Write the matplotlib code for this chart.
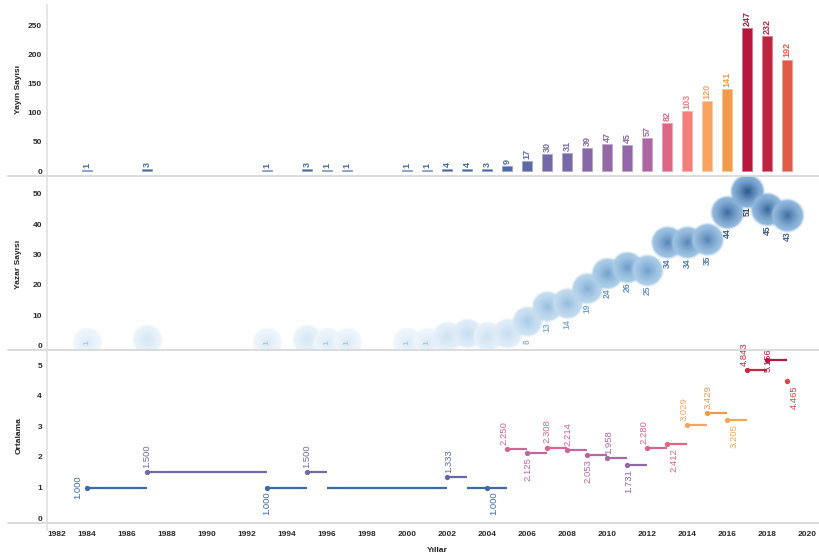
import matplotlib
matplotlib.use('Agg')
import matplotlib.pyplot as plt
import numpy as np
from matplotlib.colors import LinearSegmentedColormap, to_rgb
from matplotlib.lines import Line2D

# ---------------- data ----------------
years = [1984, 1987, 1993, 1995, 1996, 1997, 2000, 2001, 2002, 2003, 2004, 2005, 2006,
         2007, 2008, 2009, 2010, 2011, 2012, 2013, 2014, 2015, 2016, 2017, 2018, 2019]
yayin = [1, 3, 1, 3, 1, 1, 1, 1, 4, 4, 3, 9, 17,
         30, 31, 39, 47, 45, 57, 82, 103, 120, 141, 247, 232, 192]
yazar = [1, 2, 1, 2, 1, 1, 1, 1, 3, 4, 3, 4, 8,
         13, 14, 19, 24, 26, 25, 34, 34, 35, 44, 51, 45, 43]
ortalama = [1.000, 1.500, 1.000, 1.500, 1.000, 1.000, 1.000, 1.000, 1.333, 1.000, 1.000, 2.250, 2.125,
            2.308, 2.214, 2.053, 1.958, 1.731, 2.280, 2.412, 3.029, 3.429, 3.205, 4.843, 5.156, 4.465]
x_ticks = list(range(1982, 2021, 2))
top_ticks = [0, 50, 100, 150, 200, 250]
mid_ticks = [0, 10, 20, 30, 40, 50]
bot_ticks = [0, 1, 2, 3, 4, 5]
ylabel_top = "Yayın Sayısı"
ylabel_mid = "Yazar Sayısı"
ylabel_bot = "Ortalama"
xlabel = "Yıllar"

# label visibility / placement (style)
mid_center_labels = [1984, 1993, 1996, 1997, 2000, 2001]
mid_below_labels = list(range(2006, 2020))
# year: (mode, dx in px)
bot_label_place = {1984: ('l', 0), 1987: ('a', 0), 1993: ('b', 0), 1995: ('a', 0),
                   2002: ('a', 2), 2004: ('b', 7), 2005: ('a', -3), 2006: ('b', 1),
                   2007: ('a', 0), 2008: ('a', 1), 2009: ('b', 1), 2010: ('a', 1),
                   2011: ('b', 1), 2012: ('a', -3), 2013: ('b', 7), 2014: ('a', -3),
                   2015: ('a', 1), 2016: ('b', 7), 2017: ('a', -3), 2018: ('c', 1),
                   2019: ('b', 7)}

plt.rcParams['font.family'] = ['Liberation Sans', 'DejaVu Sans']

W, H = 819, 558
fig = plt.figure(figsize=(W / 100, H / 100), dpi=100)

def fx(px):
    return px / W

def fy(py):
    return 1 - py / H

left = fx(47)
width = 1 - left
ax_top = fig.add_axes([left, fy(176), width, (176 - 5) / H])
ax_mid = fig.add_axes([left, fy(350), width, (350 - 176) / H])
ax_bot = fig.add_axes([left, fy(523), width, (523 - 350) / H])

XMIN, XMAX = 1982, 2020.58
tick_col = '#2b2b2b'
for ax in (ax_top, ax_mid, ax_bot):
    ax.set_xlim(XMIN, XMAX)
    for s in ax.spines.values():
        s.set_visible(False)
    ax.tick_params(length=0, labelsize=6, labelcolor=tick_col, pad=3.6)
    ax.set_facecolor('none')

ax_top.set_ylim(-8.6, 286)
ax_mid.set_ylim(-1.55, 55.9)
ax_bot.set_ylim(-0.153, 5.49)

pal = LinearSegmentedColormap.from_list('pal', [
    (0.0, '#3d6aa3'), (0.13, '#7a68a8'), (0.22, '#a466a6'), (0.30, '#d26596'), (0.34, '#e2667f'),
    (0.43, '#f8827a'), (0.50, '#f9ab5c'), (0.60, '#ee9645'), (0.78, '#e05a48'),
    (0.92, '#c32a40'), (1.0, '#b5173f')])

# ---------------- top: bars ----------------
ymax_top = max(yayin)
bar_cols = [pal(v / ymax_top) for v in yayin]
ax_top.bar(years, yayin, width=0.5, color=bar_cols,
           edgecolor=[tuple(np.array(to_rgb(c)) * 0.6 + 0.4) for c in bar_cols],
           linewidth=0.6, zorder=2)
for x, v, c in zip(years, yayin, bar_cols):
    ax_top.annotate(str(v), (x, v), xytext=(0, 1.5), textcoords='offset points', rotation=90,
                    ha='center', va='bottom', fontsize=6.5, fontweight='bold', color=c)
ax_top.set_yticks(top_ticks)
ax_top.set_xticks([])

# ---------------- middle: bubbles ----------------
edge_cm = LinearSegmentedColormap.from_list('edge', [(0, '#f3f8fc'), (0.15, '#cfe3f3'),
                                                     (0.5, '#a9cbe7'), (1, '#86b0d8')])
cent_cm = LinearSegmentedColormap.from_list('cent', [(0, '#e2eff9'), (0.15, '#a7cbe7'),
                                                     (0.5, '#6b9ccb'), (1, '#24528a')])
lab_cm = LinearSegmentedColormap.from_list('lab', [(0, '#a9cdea'), (0.3, '#80acd7'),
                                                   (0.6, '#5a8abd'), (1, '#2a4770')])
vmax_mid = max(yazar)
K = 14
z = 2
for x, v in zip(years, yazar):
    t = v / vmax_mid
    R = 13.5 + 2.0 * t  # px
    ec = np.array(to_rgb(edge_cm(t)))
    cc = np.array(to_rgb(cent_cm(t)))
    for fr, al in ((1.14, 0.22), (1.07, 0.45)):
        rpt = R * fr * 0.72
        ax_mid.scatter([x], [v], s=(2 * rpt) ** 2, color=ec, alpha=al, linewidths=0, zorder=z)
        z += 0.01
    for k in range(K):
        f = 1 - k / K
        m = (1 - f) ** 1.3
        col = ec * (1 - m) + cc * m
        rpt = R * f * 0.72
        ax_mid.scatter([x], [v], s=(2 * rpt) ** 2, color=col, linewidths=0, zorder=z)
        z += 0.01
for x, v in zip(years, yazar):
    t = v / vmax_mid
    if x in mid_center_labels:
        ax_mid.annotate(str(v), (x, v), xytext=(0, -0.5), textcoords='offset points', rotation=90,
                        ha='center', va='center', fontsize=6, color=lab_cm(t), zorder=50,
                        fontweight='bold')
    elif x in mid_below_labels:
        ax_mid.annotate(str(v), (x, v), xytext=(0, -15), textcoords='offset points', rotation=90,
                        ha='center', va='center', fontsize=6.2, color=lab_cm(t), zorder=50,
                        fontweight='bold')
ax_mid.set_yticks(mid_ticks)
ax_mid.set_xticks([])

# ---------------- bottom: step segments ----------------
omin, omax = min(ortalama), max(ortalama)
for i, (x, v) in enumerate(zip(years, ortalama)):
    c = pal((v - omin) / (omax - omin))
    if i + 1 < len(years):
        ax_bot.plot([x, years[i + 1]], [v, v], color=c, lw=1.6, solid_capstyle='butt', zorder=3)
    if x in bot_label_place:
        ax_bot.plot([x], [v], 'o', color=c, ms=3.8, mec='none', zorder=4)
        mode, dx = bot_label_place[x]
        dxp = dx * 0.72
        txt = f"{v:.3f}"
        if mode == 'a':
            kw = dict(xytext=(dxp, 3), ha='center', va='bottom')
        elif mode == 'b':
            kw = dict(xytext=(dxp, -3), ha='center', va='top')
        elif mode == 'l':
            kw = dict(xytext=(-3.5, 0), ha='right', va='center')
        else:
            kw = dict(xytext=(dxp, 0), ha='center', va='center')
        ax_bot.annotate(txt, (x, v), textcoords='offset points', rotation=90, fontsize=6.8,
                        color=c, zorder=6, **kw)
ax_bot.set_yticks(bot_ticks)
ax_bot.set_xticks(x_ticks)
ax_bot.set_xticklabels([str(t) for t in x_ticks])
ax_bot.tick_params(axis='x', pad=5.4)
xl = ax_bot.get_xticklabels()
xl[0].set_horizontalalignment('left')

for ax in (ax_top, ax_mid, ax_bot):
    for lab in ax.get_yticklabels() + ax.get_xticklabels():
        lab.set_fontweight('bold')

# axis titles
fig.text(fx(19), fy(90), ylabel_top, rotation=90, ha='center', va='center', fontsize=6, fontweight='bold', color='#222')
fig.text(fx(19), fy(264), ylabel_mid, rotation=90, ha='center', va='center', fontsize=6, fontweight='bold', color='#222')
fig.text(fx(19), fy(436), ylabel_bot, rotation=90, ha='center', va='center', fontsize=6, fontweight='bold', color='#222')
fig.text(fx(437), fy(550), xlabel, ha='center', va='center', fontsize=6, fontweight='bold', color='#222')

# separators & axis line
sep = '#d6d6d6'
for py in (176, 350, 523):
    fig.add_artist(Line2D([fx(8), 1], [fy(py), fy(py)], color=sep, lw=1.2, zorder=10))
fig.add_artist(Line2D([fx(47), fx(47)], [fy(5), fy(530)], color='#e0e0e0', lw=1.2, zorder=10))

fig.savefig('out.png', dpi=100, facecolor='white')
